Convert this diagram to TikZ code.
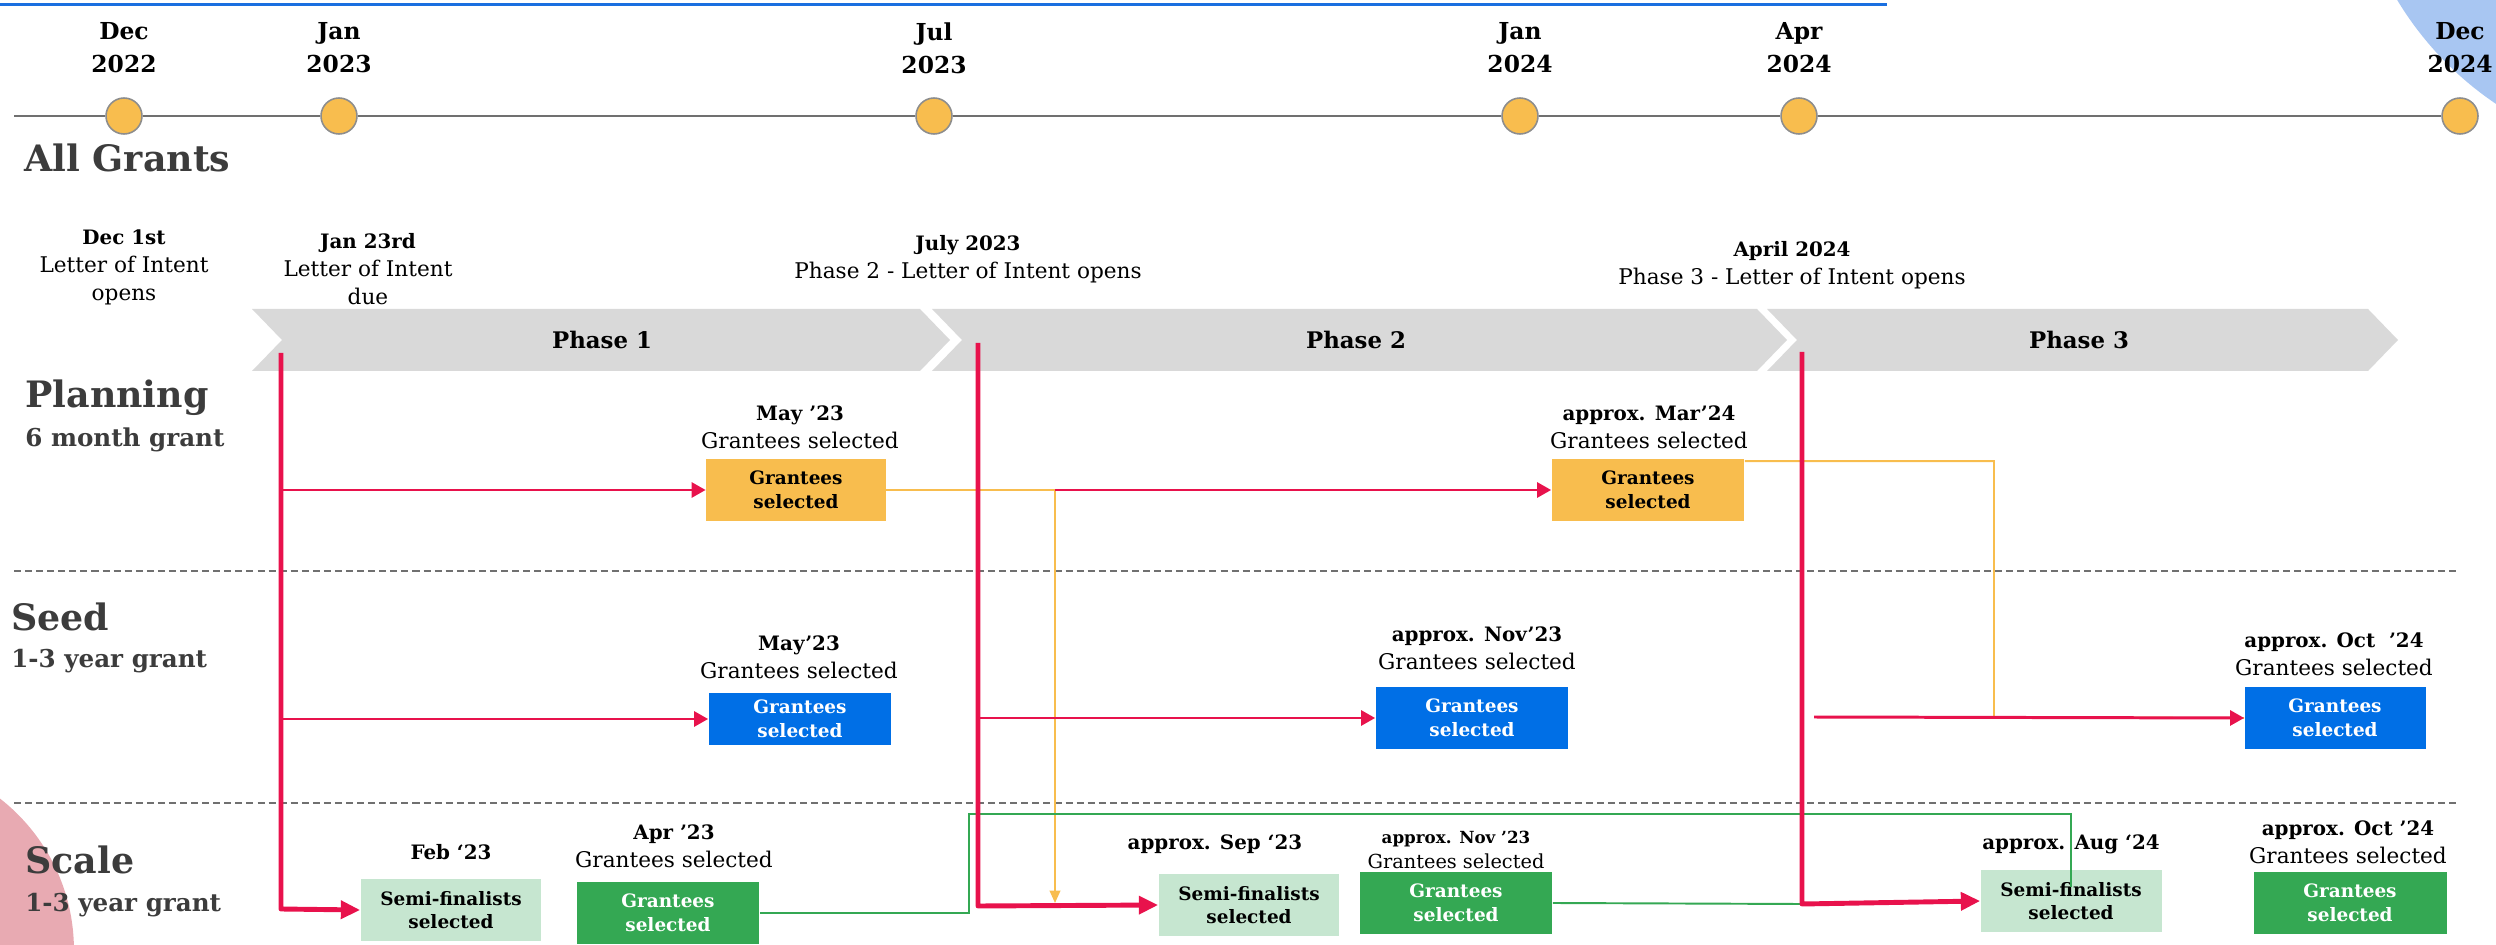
\documentclass[tikz,border=0pt]{standalone}
\usepackage{fontspec}
\setmainfont{DejaVu Serif}
\usepackage{tikz}
\usetikzlibrary{arrows.meta,positioning,calc}

\definecolor{gold}{RGB}{248,189,78}
\definecolor{azure}{RGB}{0,111,230}
\definecolor{leaf}{RGB}{52,168,83}
\definecolor{mint}{RGB}{198,230,208}
\definecolor{crimson}{RGB}{232,18,76}
\definecolor{sky}{RGB}{168,198,242}
\definecolor{blush}{RGB}{232,170,178}
\definecolor{chev}{RGB}{217,217,217}
\definecolor{ink}{RGB}{60,60,60}
\definecolor{axis}{RGB}{112,112,112}
\definecolor{topline}{RGB}{26,111,224}

\newcommand\hd[1]{{\fontsize{11.3}{16}\selectfont\bfseries #1}}

\begin{document}
\begin{tikzpicture}[x=0.02cm, y=-0.02cm, >={Triangle[length=8pt,width=8.5pt]},
  lab/.style={align=center, inner sep=0pt, font=\fontsize{12.3}{16}\selectfont},
  box/.style={inner sep=0pt, minimum height=1.26cm, align=center, font=\fontsize{10.5}{13.5}\selectfont\bfseries},
  obox/.style={box, fill=gold},
  bluebox/.style={box, fill=azure, text=white},
  gbox/.style={box, fill=leaf, text=white},
  sbox/.style={box, fill=mint},
  mdot/.style={circle, draw=axis!80, fill=gold, line width=0.9pt, minimum size=0.72cm, inner sep=0pt},
  month/.style={align=center, inner sep=0pt, font=\fontsize{13.3}{18.7}\selectfont\bfseries},
  rowname/.style={anchor=west, inner sep=0pt, text=ink, font=\fontsize{20.7}{24}\selectfont\bfseries},
  rowsub/.style={anchor=west, inner sep=0pt, text=ink, font=\fontsize{14}{17}\selectfont\bfseries},
  phlab/.style={inner sep=0pt, font=\fontsize{13}{16}\selectfont\bfseries},
  sepline/.style={draw=axis, line width=1.1pt, dash pattern=on 4pt off 2.3pt},
  rline/.style={draw=crimson, line width=1.7pt},
  rbar/.style={draw=crimson, line width=2.8pt, line join=round, >={Triangle[length=11pt,width=10pt]}},
  oline/.style={draw=gold, line width=1.1pt, >={Triangle[length=7pt,width=6pt]}},
  gline/.style={draw=leaf, line width=1.1pt},
]
\useasboundingbox (0,0) rectangle (2496,945);
\clip (0,0) rectangle (2496,945);

% decoration
\fill[sky] (2680,-170) circle[radius=6.6cm];
\fill[blush] (-118,950) circle[radius=3.84cm];
\draw[topline, line width=1.7pt] (0,5) -- (1887,5);

% timeline
\foreach \x/\mo/\yr/\n in {124/Dec/2022/m1, 339/Jan/2023/m2, 934/Jul/2023/m3,
    1520/Jan/2024/m4, 1799/Apr/2024/m5, 2460/Dec/2024/m6} {
  \node[month] at (\x,48) {\mo\\\yr};
  \node[mdot] (\n) at (\x,116) {};
}
\coordinate (m0) at (14,116);
\draw[axis, line width=1.5pt] (m0) -- (m1) (m1) -- (m2) (m2) -- (m3) (m3) -- (m4) (m4) -- (m5) (m5) -- (m6);

\node[rowname] (r0) at (24,158) {All Grants};

\node[lab] (d1) at (124,267) {\hd{Dec 1st}\\Letter of Intent\\opens};
\node[lab] (d2) at (368,269) {\hd{Jan 23rd}\\Letter of Intent\\due};
\node[lab] (d3) at (968,259) {\hd{July 2023}\\Phase 2 - Letter of Intent opens};
\node[lab] (d4) at (1792,265) {\hd{April 2024}\\Phase 3 - Letter of Intent opens};

% phases
\fill[chev] (252,309) -- (920,309) -- (950,340) -- (920,371) -- (252,371) -- (282,340) -- cycle;
\fill[chev] (932,309) -- (1757,309) -- (1787,340) -- (1757,371) -- (932,371) -- (962,340) -- cycle;
\fill[chev] (1767,309) -- (2368,309) -- (2398,340) -- (2368,371) -- (1767,371) -- (1797,340) -- cycle;
\node[phlab] (p1) at (602,340) {Phase 1};
\node[phlab] (p2) at (1356,340) {Phase 2};
\node[phlab] (p3) at (2079,340) {Phase 3};

% rows
\node[rowname] (r1) at (25,398) {Planning};
\node[rowsub] (r1s) at (25,440) {6 month grant};
\node[rowname] (r2) at (11,617) {Seed};
\node[rowsub] (r2s) at (11,661) {1-3 year grant};
\node[rowname] (r3) at (25,860) {Scale};
\node[rowsub] (r3s) at (25,905) {1-3 year grant};

\draw[sepline] (14,571) -- (2458,571);
\draw[sepline] (14,803) -- (2458,803);

% planning
\node[obox, minimum width=3.6cm] (pg1) at (796,490) {Grantees\\selected};
\node[obox, minimum width=3.86cm] (pg2) at (1648,490) {Grantees\\selected};
\node[lab] (pl1) at (800,427) {\hd{May ’23}\\Grantees selected};
\node[lab] (pl2) at (1649,427) {\hd{approx. Mar’24}\\Grantees selected};

% seed
\node[bluebox, minimum width=3.66cm, minimum height=1.04cm] (sg1) at (800,719) {Grantees\\selected};
\node[bluebox, minimum width=3.86cm] (sg2) at (1472,718) {Grantees\\selected};
\node[bluebox, minimum width=3.62cm] (sg3) at (2335,718) {Grantees\\selected};
\node[lab] (sl1) at (799,657) {\hd{May’23}\\Grantees selected};
\node[lab] (sl2) at (1477,648) {\hd{approx. Nov’23}\\Grantees selected};
\node[lab] (sl3) at (2334,654) {\hd{approx. Oct~~’24}\\Grantees selected};

% scale
\node[sbox, minimum width=3.62cm] (cs1) at (451,910) {Semi-finalists\\selected};
\node[gbox, minimum width=3.66cm] (cg1) at (668,913) {Grantees\\selected};
\node[sbox, minimum width=3.62cm] (cs2) at (1249,905) {Semi-finalists\\selected};
\node[gbox, minimum width=3.86cm] (cg2) at (1456,903) {Grantees\\selected};
\node[sbox, minimum width=3.62cm] (cs3) at (2071,901) {Semi-finalists\\selected};
\node[gbox, minimum width=3.86cm] (cg3) at (2350,903) {Grantees\\selected};
\node[lab] (cl1) at (451,852) {\hd{Feb ‘23}};
\node[lab] (cl2) at (674,846) {\hd{Apr ’23}\\Grantees selected};
\node[lab] (cl3) at (1215,844) {\hd{approx. Sep ‘23}};
\node[lab, font=\fontsize{11}{14}\selectfont] (cl4) at (1456,850) {{\fontsize{9.5}{14}\selectfont\bfseries approx. Nov ’23}\\Grantees selected};
\node[lab] (cl5) at (2071,844) {\hd{approx. Aug ‘24}};
\node[lab] (cl6) at (2348,842) {\hd{approx. Oct ’24}\\Grantees selected};

% connectors
\coordinate (t1) at (281,353);  \coordinate (b1) at (281,909);
\coordinate (t2) at (978,343);  \coordinate (b2) at (978,906);
\coordinate (t3) at (1802,352); \coordinate (b3) at (1802,904);
\coordinate (j1) at (1055,490); \coordinate (j1e) at (1055,903);
\coordinate (j2) at (1994,717);
\coordinate (j3) at (969,814);  \coordinate (j4) at (2071,887);
\coordinate (s3) at (1814,717);

\draw[oline, ->] (pg1.east) -- (j1) -- (j1e);
\draw[oline] ([yshift=-0.06cm]pg2.north east) -| (j2) -- (sg3.west);
\draw[gline] (cg1.east) -| (j3) -| (j4);
\draw[gline] (cg2.east) -- (b3);

\path[every edge/.style={rline, ->}]
  (t1 |- pg1.west) edge (pg1.west)
  (j1) edge (pg2.west)
  (t1 |- sg1.west) edge (sg1.west)
  (t2 |- sg2.west) edge (sg2.west)
  (s3) edge (sg3.west);

\draw[rbar, ->] (t1) -- (b1) -- (cs1.west);
\draw[rbar, ->] (t2) -- (b2) -- (cs2.west);
\draw[rbar, ->] (t3) -- (b3) -- (cs3.west);
\end{tikzpicture}
\end{document}
